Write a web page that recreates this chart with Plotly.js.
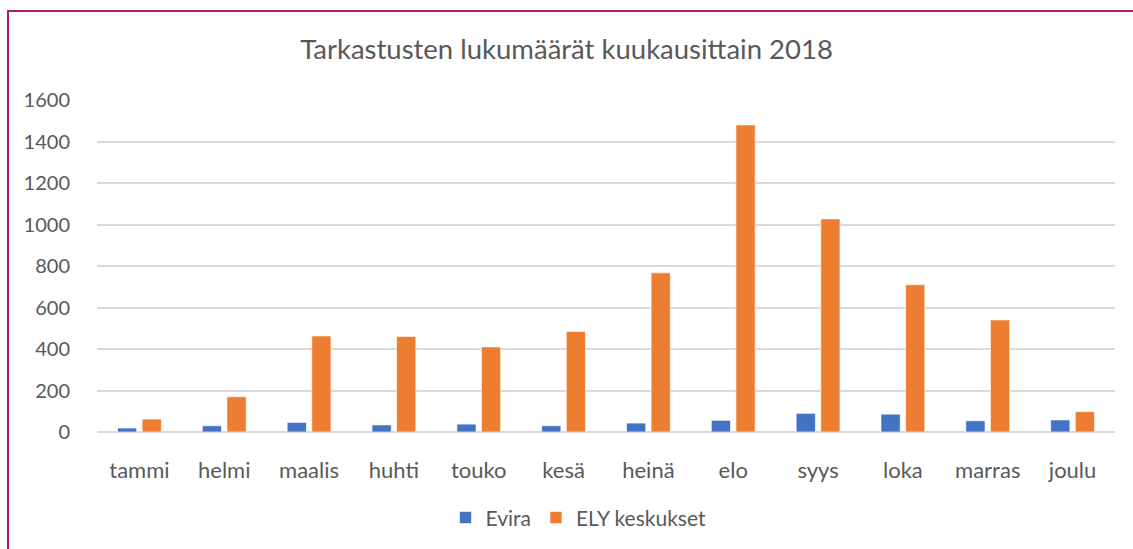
<!DOCTYPE html>
<html>
<head>
<meta charset="utf-8">
<script src="https://cdn.plot.ly/plotly-3.0.1.min.js"></script>
<style>
  html, body { margin: 0; padding: 0; background: #fff; }
  #wrap { position: relative; width: 1133px; height: 549px; }
  #chart { width: 1133px; height: 549px; }
  #frame { position: absolute; left: 7px; top: 10px; right: -10px; bottom: -10px;
           border-left: 2px solid #a51d67; border-top: 2px solid #a51d67; pointer-events: none; }
</style>
</head>
<body>
<div id="wrap">
  <div id="chart"></div>
  <div id="frame"></div>
</div>
<script>
const months = ["tammi", "helmi", "maalis", "huhti", "touko", "kesä", "heinä", "elo", "syys", "loka", "marras", "joulu"];
const evira = [19, 30, 46, 34, 38, 30, 43, 56, 90, 86, 54, 58];
const ely = [62, 170, 463, 460, 410, 484, 767, 1480, 1027, 710, 540, 98];
const yTicks = [0, 200, 400, 600, 800, 1000, 1200, 1400, 1600];

const font = "Lato, 'Open Sans', sans-serif";
const textColor = "#595959";

const traces = [
  { type: "bar", name: "Evira", x: months, y: evira,
    marker: { color: "#4472C4", line: { color: "rgba(255,255,255,0.6)", width: 1 } },
    hoverinfo: "x+y" },
  { type: "bar", name: "ELY keskukset", x: months, y: ely,
    marker: { color: "#ED7D31", line: { color: "rgba(255,255,255,0.6)", width: 1 } },
    hoverinfo: "x+y" }
];

const layout = {
  width: 1133, height: 549,
  margin: { l: 97, r: 18, t: 100, b: 116 },
  paper_bgcolor: "#ffffff", plot_bgcolor: "#ffffff",
  font: { family: font, color: textColor, size: 20 },
  title: { text: "Tarkastusten lukumäärät kuukausittain 2018",
           font: { family: font, size: 27.5, color: textColor },
           x: 0.5, xanchor: "center", y: 0.91, yanchor: "middle" },
  barmode: "group", bargap: 0.42, bargroupgap: 0.22,
  xaxis: { type: "category", showgrid: false, zeroline: false,
           showline: false, ticks: "outside", ticklen: 19, tickcolor: "rgba(0,0,0,0)",
           tickfont: { family: font, size: 22, color: textColor } },
  yaxis: { range: [0, 1600], tickvals: yTicks, ticktext: yTicks.map(String),
           showgrid: true, gridcolor: "#D9D9D9", gridwidth: 2,
           zeroline: true, zerolinecolor: "#D9D9D9", zerolinewidth: 2,
           showline: false, ticks: "outside", ticklen: 22, tickcolor: "rgba(0,0,0,0)",
           tickfont: { family: font, size: 20, color: textColor } },
  showlegend: true,
  legend: { orientation: "h", x: 0.473, xanchor: "center", y: -0.255, yanchor: "middle",
            font: { family: font, size: 21, color: textColor }, itemwidth: 30,
            traceorder: "normal" }
};

Plotly.newPlot("chart", traces, layout, { displayModeBar: false, staticPlot: true });
</script>
</body>
</html>
